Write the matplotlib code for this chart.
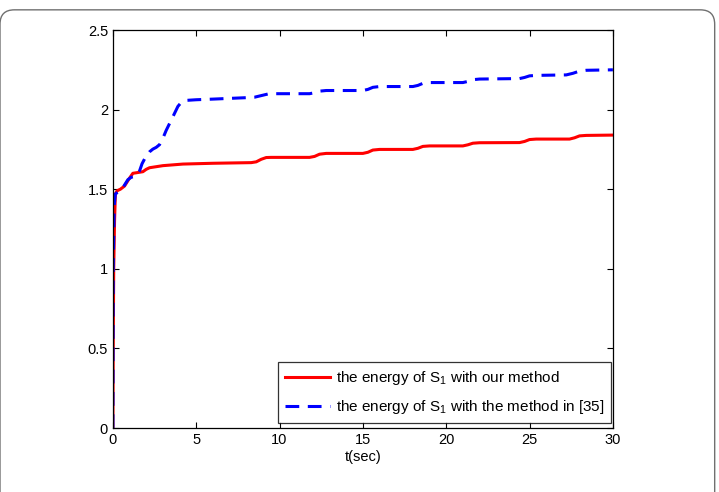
import matplotlib
matplotlib.use("Agg")
import matplotlib.pyplot as plt
from matplotlib.patches import FancyBboxPatch

plt.rcParams['font.family'] = ['Liberation Sans', 'DejaVu Sans']
plt.rcParams['mathtext.fontset'] = 'custom'
plt.rcParams['mathtext.rm'] = 'Liberation Sans'
plt.rcParams['mathtext.it'] = 'Liberation Sans'

# energy of S1 with our method
t_ours = [0, 0.02, 0.05, 0.1, 0.15, 0.25, 0.45, 0.7, 0.85, 1.0, 1.2, 1.5, 1.8, 2.0, 2.2,
          3.0, 4.2, 6.0,
          8.3, 8.6, 8.9, 9.2, 9.5, 11.8, 12.1, 12.4, 12.8,
          15.0, 15.3, 15.6, 16.0, 18.0, 18.3, 18.6, 19.0,
          21.0, 21.3, 21.6, 22.0, 24.4, 24.7, 25.0, 25.4,
          27.4, 27.7, 28.0, 28.4, 30]
e_ours = [0, 0.5, 1.0, 1.3, 1.47, 1.49, 1.50, 1.52, 1.545, 1.57, 1.60, 1.605, 1.61, 1.625, 1.635,
          1.648, 1.658, 1.663,
          1.667, 1.672, 1.688, 1.699, 1.70, 1.70, 1.706, 1.72, 1.725,
          1.725, 1.732, 1.746, 1.75, 1.75, 1.757, 1.769, 1.772,
          1.772, 1.779, 1.789, 1.792, 1.793, 1.80, 1.812, 1.815,
          1.815, 1.823, 1.835, 1.838, 1.84]

# energy of S1 with the method in [35]
t_ref = [0, 0.02, 0.08, 0.15, 0.4, 0.6, 0.9, 1.1, 1.3, 1.45, 1.6, 1.75, 1.95, 2.2, 2.4,
         2.6, 2.8, 3.0, 3.2, 3.6, 3.9, 4.1, 4.4, 5.0, 6.0, 8.0,
         8.5, 8.9, 9.3, 9.7, 11.8, 12.1, 12.4, 12.8,
         15.0, 15.3, 15.6, 16.0, 18.0, 18.3, 18.6, 19.0,
         21.0, 21.3, 21.6, 22.0, 24.4, 24.7, 25.0, 25.4,
         27.2, 27.6, 28.0, 28.4, 30]
e_ref = [0, 1.0, 1.4, 1.47, 1.49, 1.51, 1.56, 1.575, 1.58, 1.59, 1.615, 1.66, 1.70, 1.735, 1.752,
         1.763, 1.78, 1.82, 1.87, 1.955, 2.02, 2.045, 2.058, 2.062, 2.066, 2.075,
         2.078, 2.088, 2.098, 2.10, 2.10, 2.106, 2.116, 2.12,
         2.12, 2.127, 2.14, 2.145, 2.145, 2.152, 2.165, 2.17,
         2.17, 2.177, 2.188, 2.192, 2.195, 2.202, 2.212, 2.215,
         2.218, 2.228, 2.242, 2.247, 2.25]

fig = plt.figure(figsize=(7.19, 4.92), dpi=100)

# rounded frame around the figure
frame = FancyBboxPatch((0.0, -0.1), 0.994, 1.08,
                       boxstyle="round,pad=0,rounding_size=0.02",
                       transform=fig.transFigure, fill=False,
                       edgecolor='#707070', linewidth=1.0, clip_on=False)
frame.set_mutation_aspect(719 / 492)
fig.patches.append(frame)

ax = fig.add_axes([0.157, 0.130, 0.6954, 0.809])
ax.plot(t_ours, e_ours, color='red', lw=2.2,
        label='the energy of S$_1$ with our method')
ax.plot(t_ref, e_ref, color='blue', lw=2.2, dashes=(4.5, 2.8),
        label='the energy of S$_1$ with the method in [35]')

ax.set_xlim(0, 30)
ax.set_ylim(0, 2.5)
ax.set_xticks([0, 5, 10, 15, 20, 25, 30])
ax.set_yticks([0, 0.5, 1, 1.5, 2, 2.5])
ax.set_xticklabels(['0', '5', '10', '15', '20', '25', '30'])
ax.set_yticklabels(['0', '0.5', '1', '1.5', '2', '2.5'])
ax.tick_params(direction='in', top=True, right=True, labelsize=10.5, length=4)
for s in ax.spines.values():
    s.set_linewidth(0.9)
ax.set_xlabel('t(sec)', fontsize=10.5, labelpad=2)

leg = ax.legend(loc='lower right', bbox_to_anchor=(0.996, 0.012),
                fontsize=11, frameon=True, fancybox=False,
                edgecolor='black', handlelength=2.95, borderaxespad=0.0,
                labelspacing=0.75, handletextpad=0.35, borderpad=0.45)
leg.get_frame().set_linewidth(0.9)

fig.savefig('out.png', dpi=100)
